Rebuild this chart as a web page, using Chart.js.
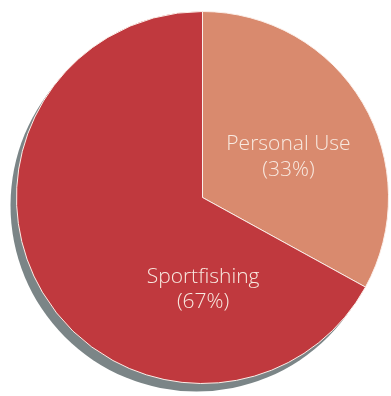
<!DOCTYPE html>
<html>
<head>
<meta charset="utf-8">
<script src="https://cdn.jsdelivr.net/npm/chart.js@4/dist/chart.umd.min.js"></script>
<style>
  html, body { margin: 0; padding: 0; background: #ffffff; overflow: hidden; }
  #wrap { position: absolute; left: 0; top: 0; width: 410px; height: 396px; }
</style>
</head>
<body>
<div id="wrap"><canvas id="c"></canvas></div>
<script>
const categories = ["Personal Use", "Sportfishing"];
const values = [33, 67];
const percentLabels = ["(33%)", "(67%)"];
const sliceColors = ["#d98a6e", "#c0393e"];

// label placement as fractions of the pie radius, relative to its centre
const labelOffsets = [[0.462, -0.218], [0.003, 0.493]];

const shadowPlugin = {
  id: 'pieShadow',
  beforeDatasetsDraw(chart) {
    const arc = chart.getDatasetMeta(0).data[0];
    if (!arc) return;
    const ctx = chart.ctx;
    ctx.save();
    ctx.fillStyle = '#7b8587';
    ctx.beginPath();
    ctx.arc(arc.x - 6, arc.y + 8, arc.outerRadius, 0, Math.PI * 2);
    ctx.fill();
    ctx.restore();
  }
};

const labelPlugin = {
  id: 'sliceLabels',
  afterDatasetsDraw(chart) {
    const meta = chart.getDatasetMeta(0);
    const ctx = chart.ctx;
    ctx.save();
    ctx.fillStyle = '#f8e9e0';
    ctx.textAlign = 'center';
    ctx.textBaseline = 'middle';
    ctx.font = '300 21px "Open Sans", sans-serif';
    meta.data.forEach((arc, i) => {
      const r = arc.outerRadius;
      const cx = arc.x + labelOffsets[i][0] * r;
      const cy = arc.y + labelOffsets[i][1] * r;
      ctx.fillText(categories[i], cx, cy - 12.5);
      ctx.fillText(percentLabels[i], cx, cy + 13);
    });
    ctx.restore();
  }
};

new Chart(document.getElementById('c'), {
  type: 'pie',
  data: {
    labels: categories,
    datasets: [{
      data: values,
      backgroundColor: sliceColors,
      borderColor: '#fbeee8',
      borderWidth: 1
    }]
  },
  options: {
    responsive: true,
    maintainAspectRatio: false,
    animation: false,
    layout: { padding: { left: 16, top: 11, right: 21, bottom: 12 } },
    plugins: {
      legend: { display: false },
      tooltip: { enabled: false }
    }
  },
  plugins: [shadowPlugin, labelPlugin]
});
</script>
</body>
</html>
